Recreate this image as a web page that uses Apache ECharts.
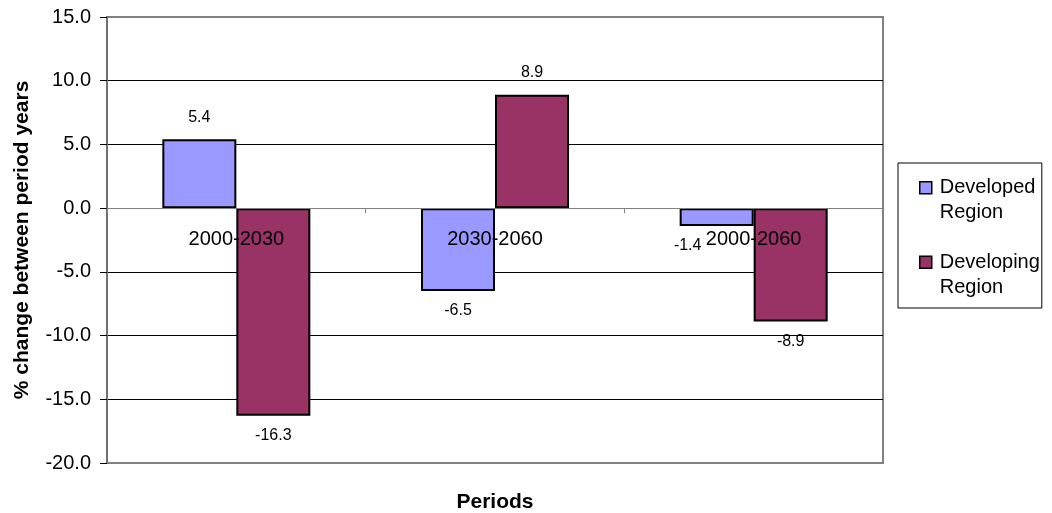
<!DOCTYPE html>
<html>
<head>
<meta charset="utf-8">
<script src="https://cdn.jsdelivr.net/npm/echarts@6/dist/echarts.min.js"></script>
<style>
html,body{margin:0;padding:0;background:#fff;}
#chart{width:1052px;height:513px;}
</style>
</head>
<body>
<div id="chart"></div>
<script>
const categories = ['2000-2030', '2030-2060', '2000-2060'];
const seriesNames = ['Developed Region', 'Developing Region'];
const developed = [5.4, -6.5, -1.4];
const developing = [-16.3, 8.9, -8.9];
const yMin = -20, yMax = 15, yStep = 5;
const yAxisTitle = '% change between period years';
const xAxisTitle = 'Periods';

const FONT = '"Liberation Sans", Arial, sans-serif';
const colors = ['#9999FF', '#993366'];

function buildData(values, seriesIdx) {
  return values.map(function (v, i) {
    const item = {
      value: v,
      label: {
        position: v < 0 ? 'bottom' : 'top',
        distance: v < 0 ? 12 : 14
      }
    };
    // nudge the overlapping small label left, as in the reference
    if (seriesIdx === 0 && i === 2) item.label.offset = [-29, 0];
    return item;
  });
}

const chart = echarts.init(document.getElementById('chart'), null, {renderer: 'canvas'});
const option = {
  backgroundColor: '#fff',
  animation: false,
  textStyle: {fontFamily: FONT},
  grid: {
    left: 107, right: 169, top: 17, bottom: 50,
    containLabel: false,
    outerBoundsMode: 'none',
    show: true, borderColor: '#808080', borderWidth: 2, backgroundColor: 'transparent'
  },
  legend: {
    orient: 'vertical',
    left: 898, top: 163,
    padding: [11.5, 2, 7.5, 21],
    itemGap: 23,
    itemWidth: 15, itemHeight: 50,
    icon: 'path://M0,6.5h12v12h-12z M15,0 M0,50',
    borderColor: '#000', borderWidth: 1,
    selectedMode: false,
    itemStyle: {borderColor: '#000', borderWidth: 1.5},
    textStyle: {fontSize: 20, lineHeight: 25, color: '#000', fontFamily: FONT},
    formatter: function (name) { return name.replace(' ', '\n'); },
    data: seriesNames
  },
  xAxis: {
    type: 'category',
    data: categories,
    z: 10,
    axisLine: {onZero: true, lineStyle: {color: '#808080', width: 1}},
    axisTick: {show: true, length: 5, lineStyle: {color: '#808080'}},
    axisLabel: {fontSize: 20, color: '#000', margin: -233.5, fontFamily: FONT},
    splitLine: {show: false},
    name: xAxisTitle,
    nameLocation: 'middle',
    nameGap: 29,
    nameTextStyle: {fontSize: 21, fontWeight: 'bold', color: '#000', fontFamily: FONT}
  },
  yAxis: {
    type: 'value',
    min: yMin, max: yMax, interval: yStep,
    axisLine: {show: true, lineStyle: {color: '#707070', width: 2}},
    axisTick: {show: true, length: 7, lineStyle: {color: '#000'}},
    axisLabel: {
      fontSize: 20, color: '#000', margin: 16, fontFamily: FONT,
      formatter: function (v) { return v.toFixed(1); }
    },
    splitLine: {
      show: true,
      lineStyle: {color: ['#808080', '#000', '#000', '#000', '#808080', '#000', '#000', '#808080'], width: 1}
    },
    name: yAxisTitle,
    nameLocation: 'middle',
    nameRotate: 90,
    nameGap: 74,
    nameTextStyle: {fontSize: 21, fontWeight: 'bold', color: '#000', fontFamily: FONT}
  },
  series: [
    {
      name: seriesNames[0],
      type: 'bar',
      data: buildData(developed, 0),
      barWidth: 74,
      barGap: '0%',
      itemStyle: {color: colors[0], borderColor: '#000', borderWidth: 2},
      label: {show: true, fontSize: 16, color: '#000', fontFamily: FONT,
        formatter: function (p) { return p.value.toFixed(1); }}
    },
    {
      name: seriesNames[1],
      type: 'bar',
      data: buildData(developing, 1),
      barWidth: 74,
      barGap: '0%',
      itemStyle: {color: colors[1], borderColor: '#000', borderWidth: 2},
      label: {show: true, fontSize: 16, color: '#000', fontFamily: FONT,
        formatter: function (p) { return p.value.toFixed(1); }}
    }
  ]
};
chart.setOption(option);
</script>
</body>
</html>
